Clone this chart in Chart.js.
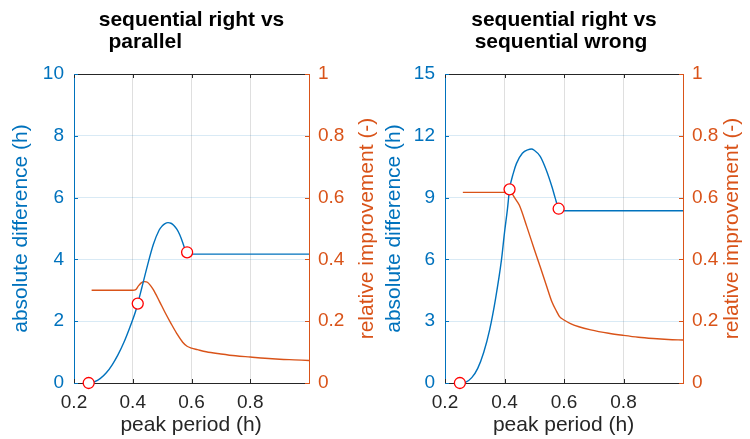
<!DOCTYPE html>
<html>
<head>
<meta charset="utf-8">
<script src="https://cdn.jsdelivr.net/npm/chart.js@4.4.1/dist/chart.umd.min.js"></script>
<style>
  html, body { margin: 0; padding: 0; background: #fff; }
  #wrap { position: relative; width: 750px; height: 439px; }
  #wrap canvas { position: absolute; left: 0; top: 0; }
</style>
</head>
<body>
<div id="wrap">
  <canvas id="parallel" width="750" height="439"></canvas>
  <canvas id="wrong" width="750" height="439"></canvas>
</div>
<script>
// tick values
const periodTicks = [0.2, 0.4, 0.6, 0.8];
const absTicksParallel = [0, 2, 4, 6, 8, 10];
const absTicksWrong = [0, 3, 6, 9, 12, 15];
const relTicks = [0, 0.2, 0.4, 0.6, 0.8, 1];

// sequential right vs parallel
const absParallelX = [0.25, 0.27, 0.29, 0.31, 0.33, 0.35, 0.37, 0.39, 0.41, 0.417, 0.43, 0.45, 0.47, 0.49, 0.50, 0.51, 0.52, 0.53, 0.54, 0.55, 0.56, 0.57, 0.58, 0.585, 1.0];
const absParallelY = [0, 0.04, 0.15, 0.33, 0.59, 0.92, 1.32, 1.80, 2.33, 2.57, 3.05, 3.8, 4.48, 4.95, 5.08, 5.16, 5.19, 5.17, 5.1, 4.98, 4.8, 4.55, 4.26, 4.17, 4.17];
const relParallelX = [0.26, 0.40, 0.41, 0.42, 0.43, 0.44, 0.45, 0.46, 0.47, 0.49, 0.51, 0.53, 0.55, 0.57, 0.585, 0.60, 0.62, 0.65, 0.70, 0.75, 0.80, 0.85, 0.90, 0.95, 1.0];
const relParallelY = [0.30, 0.30, 0.302, 0.315, 0.325, 0.328, 0.326, 0.316, 0.302, 0.266, 0.228, 0.193, 0.160, 0.132, 0.119, 0.113, 0.108, 0.101, 0.094, 0.088, 0.084, 0.080, 0.077, 0.075, 0.073];
const markParallelX = [0.25, 0.417, 0.585];
const markParallelY = [0, 2.57, 4.23];

// sequential right vs sequential wrong
const absWrongX = [0.25, 0.27, 0.29, 0.31, 0.33, 0.35, 0.37, 0.39, 0.40, 0.41, 0.417, 0.43, 0.44, 0.46, 0.48, 0.49, 0.50, 0.52, 0.54, 0.56, 0.57, 0.582, 0.59, 1.0];
const absWrongY = [0, 0.045, 0.26, 0.71, 1.48, 2.58, 4.1, 6.0, 7.3, 8.45, 9.4, 10.2, 10.65, 11.15, 11.33, 11.36, 11.3, 11.0, 10.35, 9.5, 9.0, 8.46, 8.36, 8.36];
const relWrongX = [0.26, 0.415, 0.425, 0.435, 0.45, 0.475, 0.50, 0.52, 0.54, 0.56, 0.575, 0.585, 0.60, 0.62, 0.65, 0.69, 0.75, 0.80, 0.85, 0.90, 0.95, 1.0];
const relWrongY = [0.617, 0.617, 0.613, 0.598, 0.575, 0.506, 0.433, 0.376, 0.318, 0.261, 0.232, 0.215, 0.204, 0.193, 0.182, 0.172, 0.161, 0.154, 0.148, 0.144, 0.141, 0.139];
const markWrongX = [0.25, 0.417, 0.582];
const markWrongY = [0, 9.4, 8.46];

const BLUE = '#0072BD', ORANGE = '#D95319', AXIS = '#262626';
const FONT = '"Liberation Sans", Arial, Helvetica, sans-serif';

function pts(xs, ys) {
  return xs.map((x, i) => ({ x: x, y: ys[i] }));
}

// top frame line, inward tick marks, titles and axis labels
const decor = {
  id: 'decor',
  afterDraw(chart, args, opts) {
    const ctx = chart.ctx, a = chart.chartArea;
    const sx = chart.scales.x, sl = chart.scales.yAbs, sr = chart.scales.yRel;
    const TL = 4;
    ctx.save();
    ctx.lineWidth = 1;

    ctx.strokeStyle = AXIS;
    ctx.beginPath();
    ctx.moveTo(a.left, a.top + 0.5);
    ctx.lineTo(a.right, a.top + 0.5);
    periodTicks.forEach(v => {
      const px = Math.round(sx.getPixelForValue(v)) + 0.5;
      ctx.moveTo(px, a.top); ctx.lineTo(px, a.top + TL);
      ctx.moveTo(px, a.bottom); ctx.lineTo(px, a.bottom - TL);
    });
    ctx.stroke();

    ctx.strokeStyle = BLUE;
    ctx.beginPath();
    opts.absTicks.forEach(v => {
      const py = Math.round(sl.getPixelForValue(v)) + 0.5;
      ctx.moveTo(a.left, py); ctx.lineTo(a.left + TL, py);
    });
    ctx.stroke();

    ctx.strokeStyle = ORANGE;
    ctx.beginPath();
    relTicks.forEach(v => {
      const py = Math.round(sr.getPixelForValue(v)) + 0.5;
      ctx.moveTo(a.right, py); ctx.lineTo(a.right - TL, py);
    });
    ctx.stroke();

    ctx.textBaseline = 'alphabetic';
    ctx.fillStyle = '#000';
    ctx.font = 'bold 21px ' + FONT;
    opts.title.forEach(t => {
      ctx.textAlign = t.align || 'center';
      ctx.fillText(t.text, t.x, t.y);
    });

    ctx.font = '21px ' + FONT;
    ctx.fillStyle = AXIS;
    ctx.textAlign = 'center';
    ctx.fillText(opts.xLabel.text, opts.xLabel.x, opts.xLabel.y);

    opts.yLabels.forEach(t => {
      ctx.save();
      ctx.translate(t.x, t.y);
      ctx.rotate(-Math.PI / 2);
      ctx.fillStyle = t.color;
      ctx.fillText(t.text, 0, 0);
      ctx.restore();
    });
    ctx.restore();
  }
};

function makeChart(id, cfg) {
  const tickFont = { family: FONT, size: 19 };
  return new Chart(document.getElementById(id), {
    type: 'line',
    data: {
      datasets: [
        {
          data: pts(cfg.markX, cfg.markY), yAxisID: 'yAbs', showLine: false,
          pointRadius: 5.5, pointHoverRadius: 5.5, pointBorderWidth: 1.3,
          pointBorderColor: '#FF0000', pointBackgroundColor: '#FFFFFF', clip: false
        },
        {
          data: pts(cfg.absX, cfg.absY), yAxisID: 'yAbs', borderColor: BLUE,
          borderWidth: 1.4, pointRadius: 0, cubicInterpolationMode: 'monotone'
        },
        {
          data: pts(cfg.relX, cfg.relY), yAxisID: 'yRel', borderColor: ORANGE,
          borderWidth: 1.4, pointRadius: 0, cubicInterpolationMode: 'monotone'
        }
      ]
    },
    options: {
      responsive: false,
      animation: false,
      events: [],
      layout: { padding: { top: 74, left: 0, right: 0, bottom: 0 } },
      plugins: {
        legend: { display: false },
        tooltip: { enabled: false },
        decor: cfg.decor
      },
      scales: {
        x: {
          type: 'linear', min: 0.2, max: 1,
          afterBuildTicks: s => { s.ticks = periodTicks.map(v => ({ value: v })); },
          afterFit: s => { s.height = 56; },
          grid: { color: 'rgba(38,38,38,0.15)', drawTicks: false },
          border: { color: AXIS },
          ticks: { color: AXIS, font: tickFont, padding: 8, callback: v => String(v) }
        },
        yAbs: {
          type: 'linear', position: 'left', min: 0, max: cfg.absMax,
          afterBuildTicks: s => { s.ticks = cfg.decor.absTicks.map(v => ({ value: v })); },
          afterFit: s => { s.width = cfg.left; },
          grid: { color: 'rgba(0,114,189,0.15)', drawTicks: false },
          border: { color: BLUE },
          ticks: { color: BLUE, font: tickFont, padding: 10, callback: v => String(v) }
        },
        yRel: {
          type: 'linear', position: 'right', min: 0, max: 1,
          afterBuildTicks: s => { s.ticks = relTicks.map(v => ({ value: v })); },
          afterFit: s => { s.width = 750 - cfg.right; },
          grid: { drawOnChartArea: false, drawTicks: false },
          border: { color: ORANGE },
          ticks: { color: ORANGE, font: tickFont, padding: 9, callback: v => String(v) }
        }
      }
    },
    plugins: [decor]
  });
}

makeChart('parallel', {
  left: 74, right: 309, absMax: 10,
  absX: absParallelX, absY: absParallelY,
  relX: relParallelX, relY: relParallelY,
  markX: markParallelX, markY: markParallelY,
  decor: {
    absTicks: absTicksParallel,
    title: [
      { text: 'sequential right vs', x: 191.5, y: 26 },
      { text: 'parallel', x: 108.5, y: 48, align: 'left' }
    ],
    xLabel: { text: 'peak period (h)', x: 191, y: 430.5 },
    yLabels: [
      { text: 'absolute difference (h)', x: 27, y: 228.5, color: BLUE },
      { text: 'relative improvement (-)', x: 373, y: 228.5, color: ORANGE }
    ]
  }
});

makeChart('wrong', {
  left: 445, right: 683, absMax: 15,
  absX: absWrongX, absY: absWrongY,
  relX: relWrongX, relY: relWrongY,
  markX: markWrongX, markY: markWrongY,
  decor: {
    absTicks: absTicksWrong,
    title: [
      { text: 'sequential right vs', x: 564, y: 26 },
      { text: 'sequential wrong', x: 561, y: 48 }
    ],
    xLabel: { text: 'peak period (h)', x: 563.5, y: 430.5 },
    yLabels: [
      { text: 'absolute difference (h)', x: 400, y: 228.5, color: BLUE },
      { text: 'relative improvement (-)', x: 738, y: 228.5, color: ORANGE }
    ]
  }
});
</script>
</body>
</html>
